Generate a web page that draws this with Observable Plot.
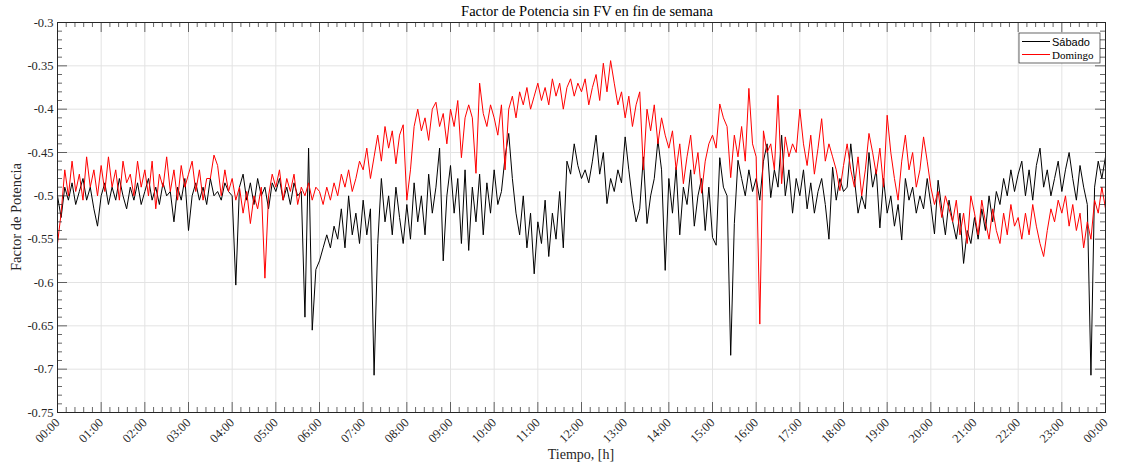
<!DOCTYPE html>
<html><head><meta charset="utf-8">
<script src="https://cdn.jsdelivr.net/npm/d3@7"></script>
<script src="https://cdn.jsdelivr.net/npm/@observablehq/plot@0.6"></script>
<style>body{margin:0;background:#fff;}</style>
</head><body><div id="chart"></div>
<script>
// ---- data (5-minute samples, hours 00:00 .. 24:00) ----
const stepMinutes = 5;
const sabado = [
 -0.500,-0.525,-0.490,-0.505,-0.485,-0.510,-0.495,-0.480,-0.505,-0.490,-0.515,-0.535,
 -0.500,-0.485,-0.510,-0.490,-0.505,-0.480,-0.500,-0.515,-0.490,-0.505,-0.485,-0.510,
 -0.495,-0.480,-0.505,-0.490,-0.510,-0.485,-0.500,-0.495,-0.530,-0.490,-0.505,-0.480,
 -0.540,-0.500,-0.485,-0.505,-0.490,-0.510,-0.480,-0.500,-0.495,-0.505,-0.485,-0.495,
 -0.500,-0.603,-0.490,-0.475,-0.505,-0.485,-0.510,-0.480,-0.500,-0.490,-0.515,-0.485,
 -0.495,-0.480,-0.505,-0.490,-0.510,-0.485,-0.500,-0.495,-0.640,-0.445,-0.655,-0.585,
 -0.575,-0.560,-0.545,-0.560,-0.535,-0.550,-0.515,-0.560,-0.500,-0.545,-0.520,-0.555,
 -0.505,-0.545,-0.515,-0.707,-0.555,-0.480,-0.530,-0.500,-0.545,-0.490,-0.525,-0.555,
 -0.510,-0.550,-0.485,-0.530,-0.500,-0.545,-0.475,-0.520,-0.490,-0.445,-0.575,-0.500,
 -0.465,-0.520,-0.480,-0.555,-0.470,-0.563,-0.490,-0.530,-0.475,-0.545,-0.485,-0.520,
 -0.470,-0.510,-0.495,-0.455,-0.428,-0.480,-0.520,-0.545,-0.500,-0.560,-0.520,-0.590,
 -0.530,-0.555,-0.505,-0.570,-0.520,-0.550,-0.495,-0.560,-0.460,-0.475,-0.440,-0.465,
 -0.480,-0.470,-0.485,-0.460,-0.430,-0.475,-0.450,-0.509,-0.480,-0.495,-0.470,-0.485,
 -0.432,-0.470,-0.505,-0.530,-0.515,-0.455,-0.532,-0.500,-0.480,-0.436,-0.470,-0.586,
 -0.480,-0.520,-0.467,-0.545,-0.490,-0.510,-0.470,-0.535,-0.500,-0.480,-0.540,-0.490,
 -0.548,-0.557,-0.456,-0.490,-0.500,-0.684,-0.532,-0.459,-0.480,-0.500,-0.470,-0.495,
 -0.480,-0.505,-0.460,-0.440,-0.502,-0.470,-0.490,-0.430,-0.500,-0.470,-0.520,-0.480,
 -0.500,-0.470,-0.515,-0.485,-0.520,-0.495,-0.480,-0.510,-0.550,-0.467,-0.505,-0.480,
 -0.495,-0.490,-0.440,-0.480,-0.520,-0.500,-0.515,-0.450,-0.490,-0.470,-0.537,-0.480,
 -0.520,-0.500,-0.535,-0.510,-0.551,-0.480,-0.505,-0.490,-0.520,-0.500,-0.515,-0.480,
 -0.510,-0.544,-0.482,-0.515,-0.545,-0.505,-0.530,-0.550,-0.520,-0.578,-0.540,-0.555,
 -0.525,-0.550,-0.515,-0.540,-0.500,-0.530,-0.495,-0.510,-0.480,-0.500,-0.470,-0.495,
 -0.475,-0.460,-0.500,-0.470,-0.505,-0.465,-0.445,-0.490,-0.470,-0.500,-0.480,-0.460,
 -0.495,-0.470,-0.450,-0.480,-0.505,-0.465,-0.490,-0.510,-0.707,-0.490,-0.460,-0.480,
 -0.455
];
const domingo = [
 -0.555,-0.520,-0.470,-0.500,-0.460,-0.495,-0.475,-0.505,-0.455,-0.490,-0.470,-0.500,
 -0.465,-0.495,-0.455,-0.490,-0.470,-0.505,-0.460,-0.485,-0.475,-0.500,-0.460,-0.490,
 -0.470,-0.500,-0.460,-0.515,-0.475,-0.490,-0.455,-0.495,-0.470,-0.505,-0.465,-0.490,
 -0.475,-0.460,-0.495,-0.470,-0.505,-0.480,-0.480,-0.453,-0.465,-0.500,-0.470,-0.495,
 -0.480,-0.505,-0.490,-0.520,-0.495,-0.532,-0.500,-0.515,-0.490,-0.595,-0.500,-0.475,
 -0.490,-0.470,-0.505,-0.480,-0.495,-0.475,-0.510,-0.490,-0.500,-0.485,-0.505,-0.490,
 -0.495,-0.510,-0.490,-0.505,-0.485,-0.500,-0.475,-0.490,-0.470,-0.495,-0.480,-0.460,
 -0.470,-0.445,-0.480,-0.455,-0.430,-0.460,-0.420,-0.445,-0.425,-0.463,-0.430,-0.418,
 -0.505,-0.470,-0.420,-0.400,-0.425,-0.410,-0.436,-0.400,-0.392,-0.420,-0.405,-0.440,
 -0.400,-0.420,-0.390,-0.456,-0.410,-0.395,-0.410,-0.474,-0.370,-0.405,-0.420,-0.395,
 -0.410,-0.430,-0.395,-0.470,-0.400,-0.385,-0.410,-0.380,-0.395,-0.375,-0.400,-0.385,
 -0.370,-0.390,-0.375,-0.395,-0.365,-0.385,-0.370,-0.400,-0.375,-0.365,-0.385,-0.370,
 -0.380,-0.365,-0.395,-0.375,-0.360,-0.390,-0.347,-0.380,-0.344,-0.370,-0.395,-0.380,
 -0.410,-0.385,-0.420,-0.395,-0.380,-0.470,-0.400,-0.425,-0.395,-0.440,-0.410,-0.430,
 -0.445,-0.425,-0.470,-0.440,-0.486,-0.455,-0.430,-0.475,-0.450,-0.497,-0.460,-0.440,
 -0.430,-0.445,-0.394,-0.410,-0.420,-0.479,-0.430,-0.455,-0.420,-0.460,-0.376,-0.440,
 -0.455,-0.648,-0.425,-0.450,-0.440,-0.470,-0.384,-0.486,-0.432,-0.455,-0.440,-0.450,
 -0.400,-0.440,-0.465,-0.430,-0.475,-0.445,-0.411,-0.460,-0.440,-0.455,-0.470,-0.494,
 -0.465,-0.440,-0.470,-0.490,-0.455,-0.500,-0.470,-0.428,-0.450,-0.475,-0.445,-0.490,
 -0.407,-0.450,-0.480,-0.505,-0.460,-0.430,-0.470,-0.450,-0.490,-0.470,-0.432,-0.460,
 -0.490,-0.510,-0.495,-0.525,-0.500,-0.515,-0.530,-0.505,-0.545,-0.520,-0.555,-0.500,
 -0.520,-0.545,-0.505,-0.530,-0.550,-0.515,-0.540,-0.555,-0.520,-0.545,-0.510,-0.535,
 -0.525,-0.550,-0.520,-0.545,-0.510,-0.535,-0.555,-0.570,-0.540,-0.515,-0.530,-0.505,
 -0.520,-0.500,-0.535,-0.510,-0.540,-0.520,-0.560,-0.530,-0.550,-0.505,-0.520,-0.490,
 -0.515
];
const seriesNames = ["Sábado", "Domingo"];
const seriesColors = ["#000000", "#ff0000"];
const xTickHours = [0,1,2,3,4,5,6,7,8,9,10,11,12,13,14,15,16,17,18,19,20,21,22,23,24];
const xTickLabels = ["00:00","01:00","02:00","03:00","04:00","05:00","06:00","07:00","08:00","09:00","10:00","11:00",
  "12:00","13:00","14:00","15:00","16:00","17:00","18:00","19:00","20:00","21:00","22:00","23:00","00:00"];
const yTicks = [-0.75,-0.7,-0.65,-0.6,-0.55,-0.5,-0.45,-0.4,-0.35,-0.3];
const yTickLabels = ["-0.75","-0.7","-0.65","-0.6","-0.55","-0.5","-0.45","-0.4","-0.35","-0.3"];
const titleText = "Factor de Potencia sin FV en fin de semana";
const xLabel = "Tiempo, [h]";
const yLabel = "Factor de Potencia";

// ---- build table ----
const rows = [];
[sabado, domingo].forEach((arr, k) => arr.forEach((v, i) => rows.push({hour: i * stepMinutes / 60, value: v, serie: seriesNames[k]})));
const xMinor = d3.range(0, 24 * 5 + 1).map(i => i / 5).filter(h => !Number.isInteger(h));
const yMinor = d3.range(-75, -29).map(i => i / 100).filter(v => !yTicks.some(t => Math.abs(t - v) < 1e-9));

const W = 1122, H = 463, mL = 57, mR = 17, mT = 22, mB = 51;
const fw = W - mL - mR, fh = H - mT - mB;
const axisColor = "#262626", gridColor = "#e3e3e3";
const major = 10, minor = 5;
const serif = "'Liberation Serif', 'DejaVu Serif', serif";

const svg = Plot.plot({
  width: W, height: H,
  marginLeft: mL, marginRight: mR, marginTop: mT, marginBottom: mB,
  style: {fontFamily: serif, fontSize: "12.5px", background: "#fff", color: axisColor},
  x: {domain: [0, 24], ticks: xTickHours, tickFormat: h => xTickLabels[xTickHours.indexOf(h)], tickRotate: -45, tickSize: 0, tickPadding: 8, label: null},
  y: {domain: [-0.75, -0.3], ticks: yTicks, tickFormat: v => yTickLabels[yTicks.indexOf(v)], tickSize: 0, tickPadding: 4, label: null},
  color: {domain: seriesNames, range: seriesColors},
  marks: [
    Plot.ruleX(xTickHours, {x: d => d, stroke: gridColor, strokeWidth: 1}),
    Plot.ruleY(yTicks, {y: d => d, stroke: gridColor, strokeWidth: 1}),
    Plot.line(rows, {x: "hour", y: "value", z: "serie", stroke: "serie", strokeWidth: 1, curve: "linear"}),
    // ticks (inside, all four sides)
    Plot.ruleX(xTickHours, {x: d => d, insetTop: fh - major, stroke: axisColor, strokeWidth: 0.7}),
    Plot.ruleX(xTickHours, {x: d => d, insetBottom: fh - major, stroke: axisColor, strokeWidth: 0.7}),
    Plot.ruleX(xMinor, {x: d => d, insetTop: fh - minor, stroke: axisColor, strokeWidth: 0.7}),
    Plot.ruleX(xMinor, {x: d => d, insetBottom: fh - minor, stroke: axisColor, strokeWidth: 0.7}),
    Plot.ruleY(yTicks, {y: d => d, insetRight: fw - major, stroke: axisColor, strokeWidth: 0.7}),
    Plot.ruleY(yTicks, {y: d => d, insetLeft: fw - major, stroke: axisColor, strokeWidth: 0.7}),
    Plot.ruleY(yMinor, {y: d => d, insetRight: fw - minor, stroke: axisColor, strokeWidth: 0.7}),
    Plot.ruleY(yMinor, {y: d => d, insetLeft: fw - minor, stroke: axisColor, strokeWidth: 0.7}),
    Plot.frame({stroke: axisColor, strokeWidth: 1})
  ]
});

const s = d3.select(svg);
s.append("text").attr("x", mL + fw / 2 + 6).attr("y", 16).attr("text-anchor", "middle")
  .attr("font-family", serif).attr("font-size", 14.5).attr("fill", "#000").text(titleText);
s.append("text").attr("x", mL + fw / 2).attr("y", H - 4).attr("text-anchor", "middle")
  .attr("font-family", serif).attr("font-size", 14).attr("fill", axisColor).text(xLabel);
s.append("text").attr("transform", `translate(21,${mT + fh / 2}) rotate(-90)`).attr("text-anchor", "middle")
  .attr("font-family", serif).attr("font-size", 14.5).attr("fill", axisColor).text(yLabel);

// legend
const lx = W - mR - 86, ly = mT + 11, lw = 81, lh = 30;
const lg = s.append("g");
lg.append("rect").attr("x", lx).attr("y", ly).attr("width", lw).attr("height", lh)
  .attr("fill", "#fff").attr("stroke", axisColor).attr("stroke-width", 0.7);
const legendFonts = ["'Liberation Sans', Arial, sans-serif", serif];
seriesNames.forEach((name, i) => {
  const yy = ly + 8.5 + i * 13;
  lg.append("line").attr("x1", lx + 3).attr("x2", lx + 31).attr("y1", yy).attr("y2", yy)
    .attr("stroke", seriesColors[i]).attr("stroke-width", 1);
  lg.append("text").attr("x", lx + 33).attr("y", yy + 4).attr("text-anchor", "start")
    .attr("font-family", legendFonts[i]).attr("font-size", 11).attr("fill", "#000").text(name);
});

document.getElementById("chart").appendChild(svg);
</script>
</body></html>
